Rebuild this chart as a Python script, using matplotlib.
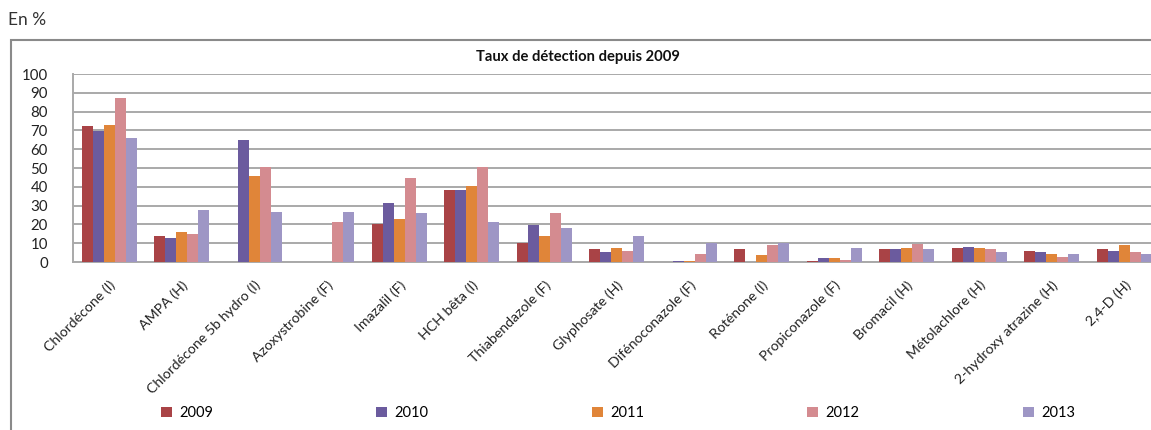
import numpy as np
import matplotlib

matplotlib.use("Agg")
import matplotlib.pyplot as plt
from matplotlib.patches import Rectangle, Patch

# ---- data ---------------------------------------------------------------
substances = [
    "Chlordécone (I)", "AMPA (H)", "Chlordécone 5b hydro (I)",
    "Azoxystrobine (F)", "Imazalil (F)", "HCH bêta (I)", "Thiabendazole (F)",
    "Glyphosate (H)", "Difénoconazole (F)", "Roténone (I)",
    "Propiconazole (F)", "Bromacil (H)", "Métolachlore (H)",
    "2-hydroxy atrazine (H)", "2,4-D (H)",
]
years = ["2009", "2010", "2011", "2012", "2013"]
nan = np.nan
v2009 = [72.3, 13.7, nan, nan, 20.4, 38.4, 10.3, 6.9, nan, 6.9, 0.6, 6.8, 7.3, 5.9, 6.8]
v2010 = [69.6, 12.6, 64.7, nan, 31.6, 38.4, 19.5, 5.3, 0.5, nan, 2.0, 6.8, 7.8, 5.3, 5.9]
v2011 = [72.8, 16.2, 45.7, nan, 22.9, 40.3, 13.7, 7.5, 0.5, 3.6, 2.0, 7.5, 7.3, 4.4, 8.9]
v2012 = [87.0, 14.8, 50.5, 21.3, 44.8, 50.5, 26.3, 5.9, 4.1, 8.9, 1.0, 9.4, 6.8, 2.5, 5.3]
v2013 = [65.7, 27.9, 26.8, 26.8, 25.9, 21.3, 18.1, 13.9, 10.1, 10.1, 7.3, 6.8, 5.3, 4.4, 4.1]
series = [v2009, v2010, v2011, v2012, v2013]

colors = ["#A94346", "#6B5B9E", "#E08539", "#D48B90", "#9E96C5"]
GRID = "#A9A9A9"
FRAME = "#8A8A8A"

plt.rcParams["font.family"] = ["Lato", "DejaVu Sans"]

W, H = 1151, 430
fig = plt.figure(figsize=(W / 100, H / 100), dpi=100)

# outer frame (left and top edges visible, rest cropped)
fig.patches.append(Rectangle((11 / W, -0.05), 1.2, 1 - 40 / H + 0.05,
                             transform=fig.transFigure, fill=False,
                             edgecolor=FRAME, lw=1.5))

fig.text(8 / W, 1 - 20 / H, "En %", fontsize=12.5, color="#333333",
         ha="left", va="center")
fig.text(578 / W, 1 - 57 / H, "Taux de détection depuis 2009", fontsize=10.6,
         fontweight="bold", ha="center", va="center", color="#111111")

left, right = 73 / W, 1.0
bottom, top = 1 - 262 / H, 1 - 74 / H
ax = fig.add_axes([left, bottom, right - left, top - bottom])

x = np.arange(len(substances))
bw = 0.152
for i, (vals, c) in enumerate(zip(series, colors)):
    ax.bar(x + (i - 2) * bw, vals, width=bw, color=c, zorder=3)

ax.set_ylim(0, 100)
ax.set_xlim(-0.5, 14.37)
ax.set_yticks(range(0, 101, 10))
ax.yaxis.grid(True, color=GRID, lw=1.4, zorder=0)
ax.set_axisbelow(True)
for s in ("top", "right"):
    ax.spines[s].set_visible(False)
for s in ("left", "bottom"):
    ax.spines[s].set_color(GRID)
    ax.spines[s].set_linewidth(1.4)
ax.tick_params(length=0, labelsize=10.8, colors="#222222")
ax.tick_params(axis="y", pad=18)

ax.set_xticks(x)
ax.set_xticklabels(substances, rotation=45, ha="right",
                   rotation_mode="anchor", fontsize=10.2)
ax.tick_params(axis="x", pad=12)

handles = [Patch(facecolor=c, edgecolor="none") for c in colors]
fig.legend(handles, years, loc="center", bbox_to_anchor=(618 / W, 1 - 413 / H),
           ncol=5, frameon=False, fontsize=10.5, handlelength=0.75,
           handleheight=0.75, handletextpad=0.5, columnspacing=11.2)

fig.savefig("out.png", dpi=100)
